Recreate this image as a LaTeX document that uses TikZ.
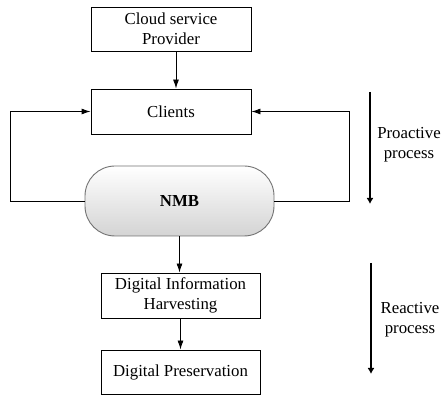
\documentclass[tikz,border=0pt]{standalone}
\usepackage{fontspec}
\setmainfont{Liberation Serif}
\usetikzlibrary{arrows.meta}
\begin{document}
\begin{tikzpicture}[x=1pt,y=-1pt,
  box/.style={draw,line width=0.9pt,align=center,inner sep=0pt,font=\fontsize{16.8}{20}\selectfont},
  conn/.style={line width=0.9pt,-{Latex[length=9pt,width=6pt]}},
  phase/.style={line width=2.6pt,-{Latex[length=6pt,width=7pt]}},
  lbl/.style={align=center,font=\fontsize{16.8}{20}\selectfont}]
\useasboundingbox (0,0) rectangle (442,395);
\node[box,minimum width=160pt,minimum height=44pt] (cloud) at (171,29) {Cloud service\\Provider};
\node[box,minimum width=160pt,minimum height=45pt] (clients) at (171,111.5) {Clients};
\node[draw=black!55,line width=0.9pt,rounded corners=30pt,top color=white,bottom color=black!17,
  minimum width=189pt,minimum height=70pt,inner sep=0pt,font=\fontsize{16.8}{20}\selectfont\bfseries] (nmb) at (179.5,201) {NMB};
\node[box,minimum width=159pt,minimum height=45pt] (dih) at (180.5,295.5) {Digital Information\\Harvesting};
\node[box,minimum width=159pt,minimum height=44pt] (dp) at (180.5,372) {Digital Preservation};
\coordinate (lt) at (10,0);
\coordinate (rt) at (349,0);
\draw[conn] (cloud.south -| 176,0) -- (clients.north -| 176,0);
\draw[conn] (nmb.west) -- (nmb.west -| lt) |- (clients.west);
\draw[conn] (nmb.east) -- (nmb.east -| rt) |- (clients.east);
\draw[conn] (nmb.south) -- (dih.north -| nmb.south);
\draw[conn] (dih.south) -- (dp.north);
\coordinate (p1) at (370,92);
\coordinate (p2) at (370,204);
\coordinate (r1) at (371,263);
\coordinate (r2) at (371,374);
\draw[phase] (p1) -- (p2);
\draw[phase] (r1) -- (r2);
\node[lbl] (pro) at (409,145) {Proactive\\process};
\node[lbl] (rea) at (410,320) {Reactive\\process};
\end{tikzpicture}
\end{document}
